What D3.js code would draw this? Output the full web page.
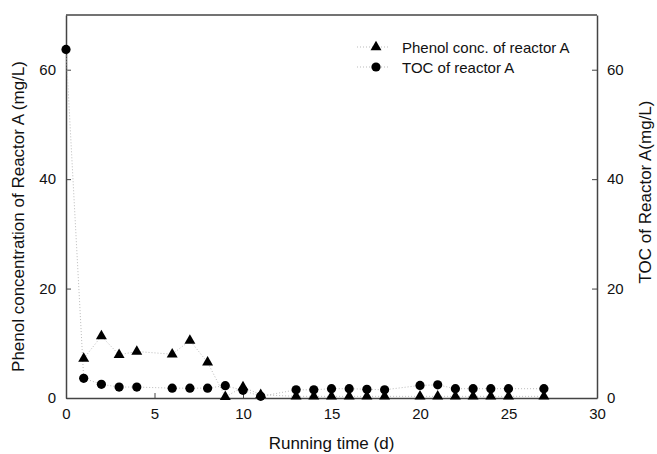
<!DOCTYPE html>
<html>
<head>
<meta charset="utf-8">
<script src="https://cdn.jsdelivr.net/npm/d3@7"></script>
<style>
  body { margin: 0; background: #fff; }
  text { font-family: "Liberation Sans", Arial, sans-serif; fill: #111; }
</style>
</head>
<body>
<div id="chart"></div>
<script>
// Data
const phenolDays = [1, 2, 3, 4, 6, 7, 8, 9, 10, 11, 13, 14, 15, 16, 17, 18, 20, 21, 22, 23, 24, 25, 27];
const phenolConc = [7.2, 11.3, 7.9, 8.5, 8.0, 10.5, 6.5, 0.2, 2.0, 0.6, 0.3, 0.3, 0.3, 0.3, 0.3, 0.3, 0.3, 0.3, 0.3, 0.3, 0.3, 0.3, 0.3];
const tocDays = [0, 1, 2, 3, 4, 6, 7, 8, 9, 10, 11, 13, 14, 15, 16, 17, 18, 20, 21, 22, 23, 24, 25, 27];
const tocConc = [63.7, 3.6, 2.5, 2.0, 2.0, 1.8, 1.8, 1.8, 2.25, 1.4, 0.3, 1.5, 1.5, 1.7, 1.7, 1.6, 1.5, 2.3, 2.4, 1.7, 1.7, 1.7, 1.7, 1.7];
const xTicks = [0, 5, 10, 15, 20, 25, 30];
const yTicks = [0, 20, 40, 60];
const legendLabels = ["Phenol conc. of reactor A", "TOC of reactor A"];

const width = 657, height = 454;
const margin = { top: 15, right: 60, bottom: 56, left: 66 };
const innerWidth = width - margin.left - margin.right;
const innerHeight = height - margin.top - margin.bottom;

const svg = d3.select("#chart").append("svg")
    .attr("width", width)
    .attr("height", height);

const g = svg.append("g")
    .attr("transform", `translate(${margin.left},${margin.top})`);

const x = d3.scaleLinear().domain([0, 30]).range([0, innerWidth]);
const yLeft = d3.scaleLinear().domain([0, 70]).range([innerHeight, 0]);
const yRight = d3.scaleLinear().domain([0, 70]).range([innerHeight, 0]);

const axisColor = "#444";

// Axes (ticks point inward)
const xAxis = g.append("g")
    .attr("transform", `translate(0,${innerHeight})`)
    .call(d3.axisBottom(x).tickValues(xTicks).tickSizeInner(-5).tickSizeOuter(0).tickPadding(10));
const yAxisL = g.append("g")
    .call(d3.axisLeft(yLeft).tickValues(yTicks).tickSizeInner(-5).tickSizeOuter(0).tickPadding(10));
const yAxisR = g.append("g")
    .attr("transform", `translate(${innerWidth},0)`)
    .call(d3.axisRight(yRight).tickValues(yTicks).tickSizeInner(-5).tickSizeOuter(0).tickPadding(10));

[xAxis, yAxisL, yAxisR].forEach(a => {
    a.attr("font-family", "Liberation Sans, Arial, sans-serif").attr("font-size", 15);
    a.selectAll(".domain").attr("stroke", axisColor).attr("stroke-width", 1.5);
    a.selectAll(".tick line").attr("stroke", axisColor).attr("stroke-width", 1);
    a.selectAll(".tick text").style("font-size", "15px").attr("fill", "#111");
});

// Top frame line
g.append("line")
    .attr("x1", 0).attr("x2", innerWidth)
    .attr("y1", 0).attr("y2", 0)
    .attr("stroke", axisColor).attr("stroke-width", 1.5);

// Dotted connecting lines
const phenolData = phenolDays.map((d, i) => ({ d: d, v: phenolConc[i] }));
const tocData = tocDays.map((d, i) => ({ d: d, v: tocConc[i] }));

const lineL = d3.line().x(p => x(p.d)).y(p => yLeft(p.v));
const lineR = d3.line().x(p => x(p.d)).y(p => yRight(p.v));

g.append("path").datum(tocData)
    .attr("fill", "none").attr("stroke", "#bbb")
    .attr("stroke-width", 1).attr("stroke-dasharray", "1,2")
    .attr("d", lineR);
g.append("path").datum(phenolData)
    .attr("fill", "none").attr("stroke", "#bbb")
    .attr("stroke-width", 1).attr("stroke-dasharray", "1,2")
    .attr("d", lineL);

const tri = d3.symbol().type(d3.symbolTriangle).size(52);

g.selectAll(".toc").data(tocData).join("circle")
    .attr("cx", p => x(p.d)).attr("cy", p => yRight(p.v))
    .attr("r", 4.6).attr("fill", "#000");

g.selectAll(".phenol").data(phenolData).join("path")
    .attr("d", tri)
    .attr("transform", p => `translate(${x(p.d)},${yLeft(p.v)})`)
    .attr("fill", "#000");

// Legend
const legend = svg.append("g").attr("transform", "translate(357,47)");
legendLabels.forEach((label, i) => {
    const row = legend.append("g").attr("transform", `translate(0,${i * 20})`);
    row.append("line")
        .attr("x1", 0).attr("x2", 32).attr("y1", 0).attr("y2", 0)
        .attr("stroke", "#bbb").attr("stroke-dasharray", "1,2");
    if (i === 0) {
        row.append("path").attr("d", tri).attr("transform", "translate(19,0)").attr("fill", "#000");
    } else {
        row.append("circle").attr("cx", 19).attr("cy", 0).attr("r", 4.6).attr("fill", "#000");
    }
    row.append("text")
        .attr("x", 45).attr("y", 5.5)
        .style("font-size", "15px")
        .text(label);
});

// Axis titles
svg.append("text")
    .attr("x", margin.left + innerWidth / 2).attr("y", 449)
    .attr("text-anchor", "middle")
    .style("font-size", "17px")
    .text("Running time (d)");

svg.append("text")
    .attr("transform", `translate(24,${margin.top + innerHeight / 2 + 10}) rotate(-90)`)
    .attr("text-anchor", "middle")
    .style("font-size", "17px")
    .text("Phenol concentration of Reactor A (mg/L)");

svg.append("text")
    .attr("transform", `translate(651,192) rotate(-90)`)
    .attr("text-anchor", "middle")
    .style("font-size", "17px")
    .text("TOC of Reactor A(mg/L)");
</script>
</body>
</html>
